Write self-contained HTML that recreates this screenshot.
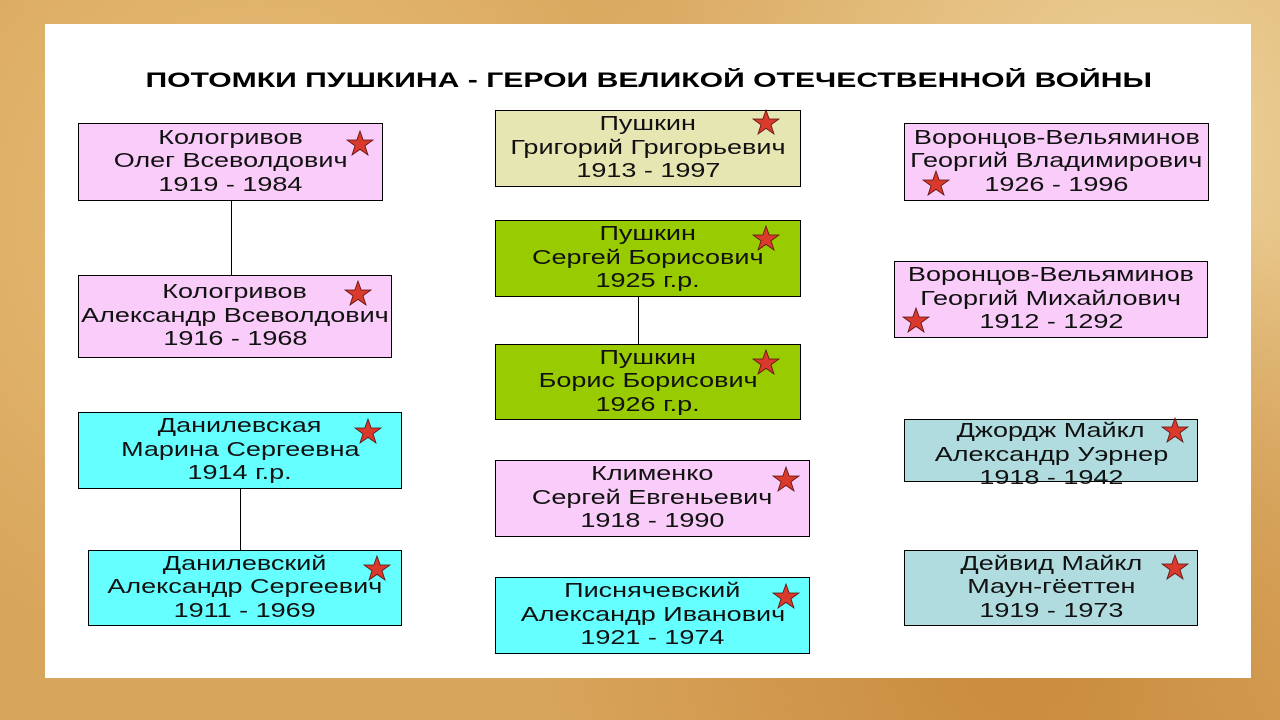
<!DOCTYPE html>
<html><head><meta charset="utf-8"><style>
body{margin:0;width:1280px;height:720px;overflow:hidden;position:relative;
background:radial-gradient(circle at 20% 30%,#e8c07a,transparent 40%),radial-gradient(circle at 80% 90%,#c98a3c,transparent 40%),radial-gradient(circle at 90% 20%,#edd29a,transparent 45%),#d8a55c;
font-family:"Liberation Sans",sans-serif;}
.panel{position:absolute;left:45px;top:24px;width:1206px;height:654px;background:#fff;}
.t{position:absolute;left:0;top:69px;width:1297px;text-align:center;font-weight:bold;font-size:21px;color:#000}
.t span{display:inline-block;transform:scaleX(1.435)}
.b{position:absolute;box-sizing:border-box;border:1px solid #000;text-align:center;font-size:20px;line-height:23.5px;color:#111;display:flex;flex-direction:column;justify-content:center;align-items:center}
.b span{display:block;transform:scaleX(1.35);white-space:nowrap}
.pk{background:#f9ccf9}.cy{background:#66ffff}.kh{background:#e6e6b3}.gr{background:#99cc00}.lb{background:#b0dce0}
.l{position:absolute;width:1px;background:#000}
svg.s{position:absolute;width:28px;height:26px}
</style></head><body>
<div class="panel"></div>
<div class="t"><span>ПОТОМКИ ПУШКИНА - ГЕРОИ ВЕЛИКОЙ ОТЕЧЕСТВЕННОЙ ВОЙНЫ</span></div>

<div class="l" style="left:231px;top:200px;height:75px"></div>
<div class="l" style="left:240px;top:488px;height:62px"></div>
<div class="l" style="left:638px;top:296px;height:48px"></div>

<div class="b pk" style="left:78px;top:123px;width:305px;height:78px"><span>Кологривов</span><span>Олег Всеволдович</span><span>1919 - 1984</span></div>
<div class="b pk" style="left:78px;top:275px;width:314px;height:83px"><span>Кологривов</span><span>Александр Всеволдович</span><span>1916 - 1968</span></div>
<div class="b cy" style="left:78px;top:412px;width:324px;height:77px"><span>Данилевская</span><span>Марина Сергеевна</span><span>1914 г.р.</span></div>
<div class="b cy" style="left:88px;top:550px;width:314px;height:76px"><span>Данилевский</span><span>Александр Сергеевич</span><span>1911 - 1969</span></div>

<div class="b kh" style="left:495px;top:110px;width:306px;height:77px"><span>Пушкин</span><span>Григорий Григорьевич</span><span>1913 - 1997</span></div>
<div class="b gr" style="left:495px;top:220px;width:306px;height:77px"><span>Пушкин</span><span>Сергей Борисович</span><span>1925 г.р.</span></div>
<div class="b gr" style="left:495px;top:344px;width:306px;height:76px"><span>Пушкин</span><span>Борис Борисович</span><span>1926 г.р.</span></div>
<div class="b pk" style="left:495px;top:460px;width:315px;height:77px"><span>Клименко</span><span>Сергей Евгеньевич</span><span>1918 - 1990</span></div>
<div class="b cy" style="left:495px;top:577px;width:315px;height:77px"><span>Писнячевский</span><span>Александр Иванович</span><span>1921 - 1974</span></div>

<div class="b pk" style="left:904px;top:123px;width:305px;height:78px"><span>Воронцов-Вельяминов</span><span>Георгий Владимирович</span><span>1926 - 1996</span></div>
<div class="b pk" style="left:894px;top:261px;width:314px;height:77px"><span>Воронцов-Вельяминов</span><span>Георгий Михайлович</span><span>1912 - 1292</span></div>
<div class="b lb" style="left:904px;top:419px;width:294px;height:63px;justify-content:flex-start"><span>Джордж Майкл</span><span>Александр Уэрнер</span><span>1918 - 1942</span></div>
<div class="b lb" style="left:904px;top:550px;width:294px;height:76px"><span>Дейвид Майкл</span><span>Маун-гёеттен</span><span>1919 - 1973</span></div>

<svg width="0" height="0" style="position:absolute"><defs><polygon id="st" points="14,1 17.2,10 27,10 19,15.8 22,25 14,19.4 6,25 9,15.8 1,10 10.8,10" fill="#d93a2b" stroke="#5a1010" stroke-width="0.8"/></defs></svg>
<svg class="s" style="left:346px;top:130px"><use href="#st"/></svg>
<svg class="s" style="left:344px;top:280px"><use href="#st"/></svg>
<svg class="s" style="left:354px;top:418px"><use href="#st"/></svg>
<svg class="s" style="left:363px;top:555px"><use href="#st"/></svg>
<svg class="s" style="left:752px;top:109px"><use href="#st"/></svg>
<svg class="s" style="left:752px;top:225px"><use href="#st"/></svg>
<svg class="s" style="left:752px;top:349px"><use href="#st"/></svg>
<svg class="s" style="left:772px;top:466px"><use href="#st"/></svg>
<svg class="s" style="left:772px;top:583px"><use href="#st"/></svg>
<svg class="s" style="left:922px;top:170px"><use href="#st"/></svg>
<svg class="s" style="left:902px;top:307px"><use href="#st"/></svg>
<svg class="s" style="left:1161px;top:417px"><use href="#st"/></svg>
<svg class="s" style="left:1161px;top:554px"><use href="#st"/></svg>
</body></html>
